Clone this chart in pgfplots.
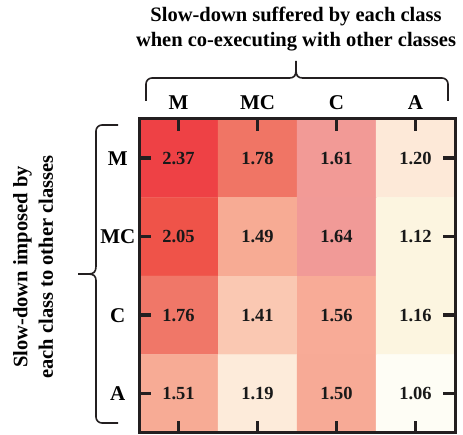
\documentclass[border=0pt]{standalone}
\usepackage{pgfplots}
\pgfplotsset{compat=1.18}
\usepackage{fontspec}
\setmainfont{Liberation Serif}
\definecolor{frame}{RGB}{35,31,32}
\begin{document}
\begin{tikzpicture}[x=1pt,y=1pt]
\useasboundingbox (0,0) rectangle (463,435);
\begin{axis}[
  at={(139pt,2pt)}, anchor=south west,
  scale only axis, width=316pt, height=314pt,
  xmin=-0.5, xmax=3.5, ymin=-0.5, ymax=3.5,
  y dir=reverse,
  xtick={0,1,2,3}, xticklabels={M,MC,C,A},
  ytick={0,1,2,3}, yticklabels={M,MC,C,A},
  xticklabel pos=upper, yticklabel pos=lower,
  tick align=inside,
  major tick length=12pt,
  every tick/.style={line width=3.5pt, frame},
  axis line style={line width=3pt, frame},
  tick label style={font=\fontsize{21}{21}\selectfont\bfseries, text=black},
  xticklabel style={inner sep=0pt, yshift=9pt},
  yticklabel style={inner sep=1pt, text width=40pt, align=center},
  colormap={cells}{
    rgb255=(238,65,69) rgb255=(240,117,101) rgb255=(242,154,150) rgb255=(253,233,216)
    rgb255=(239,83,73) rgb255=(247,171,148) rgb255=(241,154,151) rgb255=(252,245,224)
    rgb255=(240,119,104) rgb255=(250,200,178) rgb255=(248,171,151) rgb255=(252,245,224)
    rgb255=(247,171,149) rgb255=(253,235,218) rgb255=(247,170,150) rgb255=(254,253,245)
  },
  colormap access=direct,
  axis on top,
]
\addplot[matrix plot*, mesh/cols=4, point meta=explicit] table[meta=c] {
x y c
0 0 0
1 0 1
2 0 2
3 0 3
0 1 4
1 1 5
2 1 6
3 1 7
0 2 8
1 2 9
2 2 10
3 2 11
0 3 12
1 3 13
2 3 14
3 3 15
};
\addplot[draw=none, mark=none, nodes near coords, point meta=explicit symbolic,
  nodes near coords style={anchor=center, font=\fontsize{18.5}{18.5}\selectfont\bfseries, text=black!90}]
  table[meta=v] {
x y v
0 0 2.37
1 0 1.78
2 0 1.61
3 0 1.20
0 1 2.05
1 1 1.49
2 1 1.64
3 1 1.12
0 2 1.76
1 2 1.41
2 2 1.56
3 2 1.16
0 3 1.51
1 3 1.19
2 3 1.50
3 3 1.06
};
\end{axis}
% top brace
\draw[line width=1.6pt, frame, rounded corners=6pt] (146,334) -- (146,357) -- (290,357);
\draw[line width=1.6pt, frame] (289,357) .. controls (294,357) and (296,359) .. (296,365) -- (296,374);
\draw[line width=1.6pt, frame] (303,357) .. controls (298,357) and (296,359) .. (296,365);
\draw[line width=1.6pt, frame, rounded corners=6pt] (302,357) -- (448,357) -- (448,334);
% left brace
\draw[line width=1.6pt, frame, rounded corners=6pt] (118,310) -- (96,310) -- (96,168);
\draw[line width=1.6pt, frame] (96,169) .. controls (96,163) and (94,161) .. (88,161) -- (78,161);
\draw[line width=1.6pt, frame] (96,154) .. controls (96,159) and (94,161) .. (88,161);
\draw[line width=1.6pt, frame, rounded corners=6pt] (96,155) -- (96,12) -- (118,12);
% titles
\node[align=center, font=\fontsize{20.5}{24.5}\selectfont\bfseries] at (296,406)
  {Slow-down suffered by each class\\when co-executing with other classes};
\node[align=center, rotate=90, font=\fontsize{20.5}{25.5}\selectfont\bfseries] at (33,168)
  {Slow-down imposed by\\each class to other classes};
\end{tikzpicture}
\end{document}
